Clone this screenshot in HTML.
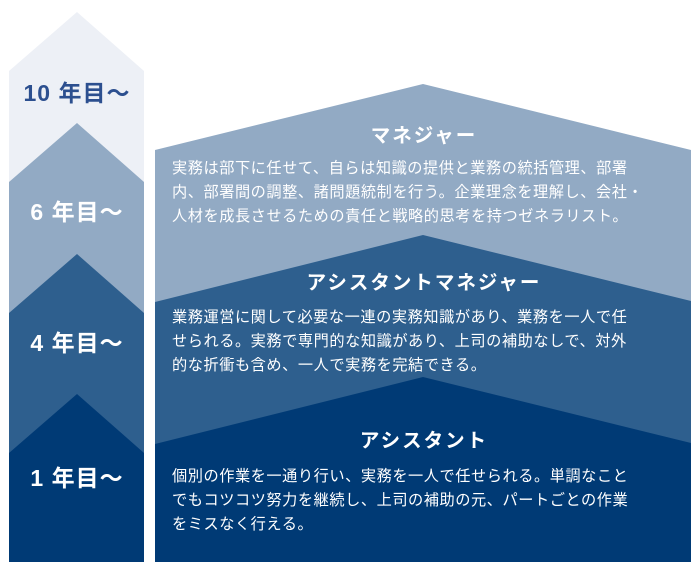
<!DOCTYPE html>
<html><head><meta charset="utf-8"><style>
body{margin:0;width:700px;height:573px;background:#fff;overflow:hidden;font-family:"Liberation Sans","Noto Sans CJK JP",sans-serif}
svg{display:block}
.t{font-weight:bold;font-size:19.5px;fill:#fff;letter-spacing:2px}
.b{font-size:15.2px;fill:#fff;letter-spacing:0.55px}
.y{font-weight:bold;font-size:23px;fill:#fff;letter-spacing:1px}
</style></head><body>
<svg width="700" height="573" viewBox="0 0 700 573">
<polygon points="9,71 77,12 144,71 144,562 9,562" fill="#edf0f6"/>
<polygon points="9,182 77,123 144,182 144,562 9,562" fill="#92aac4"/>
<polygon points="9,313 77,254 144,313 144,562 9,562" fill="#2e5f8e"/>
<polygon points="9,453 77,394 144,453 144,562 9,562" fill="#003a75"/>
<polygon points="155,150 423,84 691,150 691,562 155,562" fill="#92aac4"/>
<polygon points="155,302 423,235 691,301 691,562 155,562" fill="#2e5f8e"/>
<polygon points="155,444 423,377 691,443 691,562 155,562" fill="#003a75"/>
<g text-anchor="middle">
<text x="77" y="101" class="y" style="fill:#2c4f8f">10 年目〜</text>
<text x="77" y="220" class="y">6 年目〜</text>
<text x="77" y="351" class="y">4 年目〜</text>
<text x="77" y="486" class="y">1 年目〜</text>
<text x="424" y="142" class="t">マネジャー</text>
<text x="424" y="289" class="t">アシスタントマネジャー</text>
<text x="424" y="447" class="t">アシスタント</text>
</g>
<text class="b"><tspan x="172" y="173">実務は部下に任せて、自らは知識の提供と業務の統括管理、部署</tspan><tspan x="172" y="197">内、部署間の調整、諸問題統制を行う。企業理念を理解し、会社・</tspan><tspan x="172" y="221">人材を成長させるための責任と戦略的思考を持つゼネラリスト。</tspan></text>
<text class="b"><tspan x="172" y="322">業務運営に関して必要な一連の実務知識があり、業務を一人で任</tspan><tspan x="172" y="346">せられる。実務で専門的な知識があり、上司の補助なしで、対外</tspan><tspan x="172" y="370">的な折衝も含め、一人で実務を完結できる。</tspan></text>
<text class="b"><tspan x="172" y="481">個別の作業を一通り行い、実務を一人で任せられる。単調なこと</tspan><tspan x="172" y="505">でもコツコツ努力を継続し、上司の補助の元、パートごとの作業</tspan><tspan x="172" y="529">をミスなく行える。</tspan></text>
</svg>
</body></html>
